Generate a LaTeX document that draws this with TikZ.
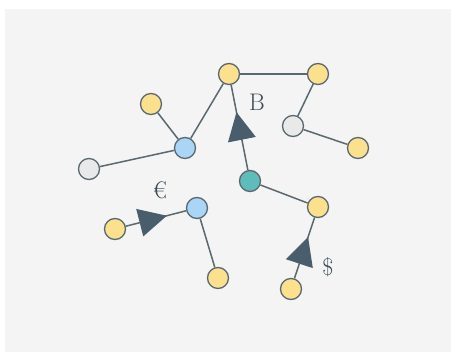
\documentclass[tikz,border=0pt]{standalone}
\usepackage{fontspec}
\usetikzlibrary{arrows.meta,decorations.markings}

\definecolor{panel}{HTML}{F4F4F4}
\definecolor{wire}{HTML}{5A6870}
\definecolor{gold}{HTML}{FBE08E}
\definecolor{sky}{HTML}{AAD5F6}
\definecolor{jade}{HTML}{5EBDBB}
\definecolor{ash}{HTML}{E9E9E9}
\definecolor{slate}{HTML}{4A5D6C}

\tikzset{
  peer/.style={circle, draw=wire, line width=1.3pt, minimum size=21pt, inner sep=0pt},
  link/.style={draw=wire, line width=1.5pt},
  flow/.style={link, postaction={decorate}, decoration={markings,
      mark=at position 0.68 with {\arrow[slate]{Triangle[length=28pt,width=28pt]}}}},
  coin/.style={font=\fontsize{24}{26}\selectfont, text=slate!80!black}
}

\begin{document}
\begin{tikzpicture}[x=1pt,y=-1pt]
        \useasboundingbox (0,0) rectangle (451,352);
        \fill[panel] (5,9) rectangle (451,352);

        % nodes of the network
        \node[peer, fill=gold] (ytop) at (229,74) {};
        \node[peer, fill=gold] (yright) at (318,74) {};
        \node[peer, fill=gold] (yleft) at (151,104) {};
        \node[peer, fill=sky] (hubl) at (185,148) {};
        \node[peer, fill=ash] (gl) at (89,169) {};
        \node[peer, fill=ash] (gr) at (293,126) {};
        \node[peer, fill=gold] (yfar) at (358,148) {};
        \node[peer, fill=jade] (core) at (250,181) {};
        \node[peer, fill=gold] (ymid) at (318,207) {};
        \node[peer, fill=sky] (hubb) at (197,208) {};
        \node[peer, fill=gold] (ylow) at (115,229) {};
        \node[peer, fill=gold] (ybot) at (218,278) {};
        \node[peer, fill=gold] (ysend) at (291,289) {};

        % plain links
        \path[link] (ytop) -- (yright);
        \path[link] (ytop) -- (hubl);
        \path[link] (yleft) -- (hubl);
        \path[link] (gl) -- (hubl);
        \path[link] (yright) -- (gr);
        \path[link] (gr) -- (yfar);
        \path[link] (core) -- (ymid);
        \path[link] (hubb) -- (ybot);

        % payments
        \path[flow] (core) -- (ytop);
        \path[flow] (ylow) -- (hubb);
        \path[flow] (ysend) -- (ymid);

        \node[coin] (lbtc) at (257,102) {B};
        \node[coin] (leur) at (160,190) {€};
        \node[coin] (lusd) at (328,267) {\$};
\end{tikzpicture}
\end{document}
